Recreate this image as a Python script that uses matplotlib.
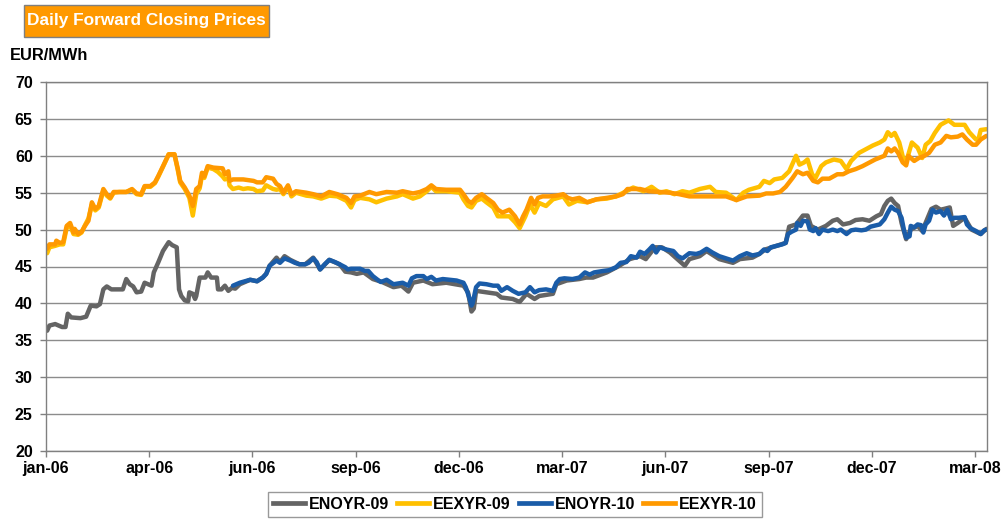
import matplotlib
matplotlib.use("Agg")
import matplotlib.pyplot as plt
from matplotlib.lines import Line2D
from matplotlib.patches import Rectangle

# day offsets since 1 Jan 2006, price in EUR/MWh
ENOYR_09 = [
    (1, 36.3), (3, 37.0), (8, 37.2), (14, 36.8), (17, 36.8), (19, 38.6), (22, 38.1), (30, 38.0),
    (35, 38.2), (39, 39.7), (44, 39.6), (47, 39.9), (50, 41.9), (53, 42.3), (57, 41.9), (67, 41.9),
    (70, 43.3), (73, 42.6), (76, 42.3), (79, 41.5), (83, 41.6), (86, 42.8), (92, 42.4), (94, 44.2),
    (98, 45.6), (102, 47.1), (107, 48.3), (110, 47.9), (114, 47.6), (115, 44.7), (116, 41.9),
    (118, 41.0), (121, 40.4), (124, 40.3), (125, 41.5), (128, 41.3), (130, 40.6), (131, 41.0),
    (134, 43.5), (139, 43.5), (141, 44.2), (144, 43.5), (149, 43.5), (150, 41.9), (153, 41.9),
    (156, 42.4), (159, 41.7), (162, 42.1), (165, 42.0), (169, 42.6), (178, 43.2), (184, 43.0),
    (189, 43.5), (192, 44.0), (195, 45.1), (201, 46.2), (204, 45.6), (208, 46.4), (213, 45.9),
    (217, 45.6), (221, 45.3), (226, 45.3), (233, 46.2), (239, 44.6), (247, 45.9), (256, 45.3),
    (261, 44.3), (266, 44.2), (271, 44.0), (277, 44.2), (285, 43.3), (293, 42.9), (303, 42.2),
    (310, 42.4), (316, 41.6), (320, 42.8), (329, 43.1), (337, 42.6), (349, 42.8), (364, 42.4),
    (368, 41.5), (371, 38.9), (373, 39.3), (375, 41.7), (384, 41.5), (393, 41.3), (397, 40.8),
    (407, 40.6), (413, 40.2), (419, 41.3), (426, 40.6), (430, 41.0), (442, 41.3), (445, 42.6),
    (454, 43.1), (465, 43.3), (471, 43.5), (477, 43.5), (489, 44.2), (500, 45.1), (509, 46.0),
    (518, 46.4), (523, 46.0), (531, 47.6), (537, 47.6), (544, 46.9), (554, 45.5), (557, 45.1),
    (561, 46.0), (570, 46.4), (576, 47.1), (587, 46.0), (599, 45.5), (605, 46.0), (616, 46.2),
    (622, 46.7), (627, 47.3), (637, 47.8), (645, 48.2), (648, 50.4), (654, 50.7), (660, 51.9),
    (664, 51.9), (667, 50.5), (673, 50.0), (680, 50.5), (686, 51.2), (690, 51.4), (695, 50.7),
    (701, 50.9), (706, 51.3), (712, 51.4), (718, 51.2), (724, 51.8), (728, 52.1), (731, 53.2),
    (734, 53.9), (737, 54.2), (740, 53.6), (743, 53.2), (746, 50.9), (750, 48.7), (754, 50.0),
    (760, 50.5), (764, 49.8), (772, 52.8), (776, 53.1), (780, 52.7), (783, 52.8), (788, 53.0),
    (791, 50.5), (795, 50.9), (801, 51.6), (807, 50.0), (815, 49.4), (820, 50.1),
]

EEXYR_09 = [
    (1, 46.8), (3, 47.6), (8, 47.8), (12, 48.0), (15, 48.0), (18, 50.2), (21, 50.6), (24, 49.4),
    (28, 49.3), (31, 49.6), (34, 50.6), (37, 51.5), (40, 53.4), (43, 52.6), (46, 53.0), (50, 55.3),
    (53, 54.6), (56, 54.2), (59, 55.0), (64, 55.1), (70, 55.1), (75, 55.4), (79, 54.8), (83, 54.7),
    (86, 55.8), (91, 55.8), (95, 56.3), (98, 57.2), (102, 58.5), (107, 60.2), (112, 60.2),
    (115, 58.0), (117, 56.4), (121, 55.5), (125, 54.3), (128, 51.9), (131, 54.8), (134, 55.6),
    (136, 57.3), (138, 57.0), (141, 58.4), (146, 58.2), (150, 57.8), (154, 57.2), (156, 56.8),
    (159, 57.0), (160, 56.0), (163, 55.5), (168, 55.7), (172, 55.5), (176, 55.6), (181, 55.5),
    (184, 55.2), (189, 55.3), (192, 56.0), (198, 55.5), (201, 55.4), (204, 55.5), (207, 54.8),
    (211, 55.8), (214, 54.5), (218, 55.0), (227, 54.6), (233, 54.5), (240, 54.2), (247, 54.6),
    (254, 54.5), (262, 53.9), (266, 53.0), (269, 54.0), (274, 54.3), (282, 54.1), (288, 53.7),
    (297, 54.2), (306, 54.5), (311, 54.8), (320, 54.2), (326, 54.5), (332, 55.2), (336, 55.8),
    (340, 55.2), (349, 55.2), (361, 55.0), (364, 54.1), (368, 53.2), (371, 53.0), (375, 53.9),
    (380, 54.2), (384, 53.7), (390, 53.0), (394, 51.8), (398, 51.8), (404, 51.8), (409, 51.0),
    (413, 50.2), (418, 51.8), (422, 53.4), (426, 52.3), (430, 53.6), (436, 53.2), (442, 54.1),
    (451, 54.5), (456, 53.4), (463, 53.9), (472, 53.7), (480, 54.1), (489, 54.2), (497, 54.5),
    (506, 55.2), (512, 55.7), (521, 55.2), (528, 55.8), (535, 55.0), (541, 55.2), (548, 54.8),
    (555, 55.2), (561, 55.0), (570, 55.5), (579, 55.8), (584, 55.1), (593, 55.0), (602, 54.0),
    (608, 55.0), (613, 55.4), (622, 55.8), (626, 56.6), (631, 56.3), (635, 56.8), (642, 57.0),
    (648, 57.9), (654, 60.0), (657, 58.8), (661, 59.1), (664, 59.5), (668, 57.5), (671, 57.0),
    (676, 58.6), (680, 59.1), (687, 59.5), (693, 59.3), (698, 58.2), (702, 59.3), (709, 60.4),
    (715, 60.9), (721, 61.4), (727, 61.8), (731, 62.2), (734, 63.2), (737, 62.7), (740, 63.1),
    (744, 61.8), (748, 59.3), (751, 59.7), (755, 61.8), (760, 61.1), (764, 59.7), (767, 61.5),
    (771, 62.0), (775, 63.1), (780, 64.2), (787, 64.8), (792, 64.2), (796, 64.2), (801, 64.2),
    (805, 63.2), (811, 62.2), (813, 62.2), (815, 63.5), (820, 63.6),
]

ENOYR_10 = [
    (163, 42.4), (169, 42.8), (178, 43.2), (184, 43.0), (189, 43.5), (192, 44.0), (195, 45.1),
    (201, 45.8), (204, 45.5), (208, 46.1), (213, 45.8), (217, 45.5), (221, 45.3), (226, 45.3),
    (229, 45.5), (233, 46.1), (236, 45.6), (239, 44.6), (243, 45.3), (247, 45.9), (252, 45.6),
    (256, 45.3), (261, 44.9), (263, 44.6), (266, 44.7), (274, 44.7), (278, 44.4), (281, 44.4),
    (285, 43.7), (290, 43.1), (292, 42.9), (297, 43.2), (303, 42.6), (307, 42.7), (311, 42.8),
    (316, 42.4), (319, 43.4), (323, 43.7), (329, 43.7), (332, 43.3), (336, 43.6), (340, 43.1),
    (346, 43.3), (352, 43.2), (358, 43.1), (364, 42.8), (366, 42.2), (369, 40.8), (371, 39.7),
    (372, 40.0), (375, 42.2), (378, 42.7), (384, 42.6), (390, 42.4), (394, 42.4), (397, 41.7),
    (402, 42.2), (407, 41.7), (412, 41.3), (418, 41.5), (422, 42.2), (426, 41.5), (430, 41.8),
    (436, 41.9), (442, 41.7), (445, 42.8), (448, 43.3), (452, 43.4), (459, 43.3), (465, 43.5),
    (470, 44.2), (474, 43.9), (478, 44.2), (486, 44.4), (491, 44.5), (497, 44.9), (501, 45.5),
    (506, 45.6), (510, 46.4), (515, 46.2), (518, 47.0), (522, 46.7), (526, 47.3), (529, 47.8),
    (532, 46.9), (535, 47.6), (541, 47.3), (547, 47.1), (551, 46.4), (555, 46.1), (561, 46.8),
    (567, 46.7), (571, 46.9), (576, 47.4), (581, 46.9), (587, 46.4), (593, 46.1), (599, 45.8),
    (605, 46.4), (611, 46.8), (616, 46.5), (622, 46.7), (626, 47.3), (629, 47.1), (632, 47.6),
    (637, 47.8), (642, 48.0), (645, 48.2), (647, 49.4), (650, 49.7), (654, 50.0), (655, 50.9),
    (658, 50.5), (660, 51.2), (664, 51.1), (666, 50.0), (669, 49.8), (671, 50.2), (674, 49.4),
    (677, 50.0), (682, 49.8), (686, 50.0), (690, 49.8), (693, 50.0), (698, 49.4), (702, 49.9),
    (706, 50.0), (711, 49.9), (715, 50.0), (719, 50.4), (727, 50.7), (731, 51.4), (734, 52.3),
    (737, 53.1), (740, 52.7), (743, 52.5), (746, 51.6), (748, 50.0), (750, 48.9), (753, 49.1),
    (754, 50.5), (757, 50.3), (760, 50.7), (763, 50.6), (765, 49.6), (767, 50.7), (770, 51.2),
    (773, 52.7), (776, 52.3), (780, 52.5), (783, 51.9), (786, 52.7), (789, 51.4), (792, 51.6),
    (796, 51.6), (801, 51.7), (803, 50.7), (806, 50.2), (811, 49.8), (815, 49.4), (818, 49.9),
    (820, 50.0),
]

EEXYR_10 = [
    (1, 47.4), (3, 48.0), (8, 48.0), (9, 48.5), (12, 48.2), (15, 48.3), (18, 50.5), (21, 50.9),
    (24, 49.6), (25, 50.1), (28, 49.4), (31, 49.7), (34, 50.5), (37, 51.2), (40, 53.7), (43, 52.8),
    (46, 53.2), (50, 55.5), (53, 54.8), (56, 54.3), (59, 55.1), (64, 55.1), (70, 55.1), (75, 55.5),
    (79, 54.9), (83, 54.8), (86, 55.9), (91, 55.9), (95, 56.4), (98, 57.3), (102, 58.6),
    (107, 60.2), (112, 60.2), (115, 58.2), (117, 56.6), (121, 55.7), (125, 54.6), (128, 53.2),
    (131, 55.5), (134, 55.9), (136, 57.7), (138, 57.2), (141, 58.6), (146, 58.4), (154, 58.3),
    (156, 57.5), (159, 57.9), (160, 56.6), (163, 56.8), (172, 56.8), (181, 56.6), (184, 56.4),
    (189, 56.4), (192, 57.1), (198, 56.9), (201, 56.2), (204, 55.9), (207, 55.0), (211, 56.0),
    (214, 54.8), (218, 55.2), (227, 55.0), (233, 54.8), (240, 54.5), (247, 55.1), (254, 54.8),
    (262, 54.3), (266, 53.6), (269, 54.5), (274, 54.6), (282, 55.1), (288, 54.8), (297, 55.1),
    (306, 55.0), (311, 55.2), (320, 54.9), (326, 55.1), (332, 55.5), (336, 56.0), (340, 55.5),
    (349, 55.4), (361, 55.4), (364, 54.8), (368, 53.9), (371, 53.6), (375, 54.3), (380, 54.8),
    (384, 54.3), (390, 53.6), (394, 52.7), (398, 52.3), (404, 52.7), (409, 51.8), (413, 50.7),
    (416, 51.8), (419, 52.7), (423, 54.3), (426, 53.4), (429, 54.3), (433, 54.5), (439, 54.5),
    (445, 54.6), (451, 54.8), (455, 54.3), (459, 54.1), (465, 54.3), (472, 53.7), (480, 54.1),
    (489, 54.3), (497, 54.5), (503, 54.8), (507, 55.5), (518, 55.5), (526, 55.2), (535, 55.1),
    (544, 55.0), (552, 54.8), (561, 54.5), (570, 54.5), (581, 54.5), (593, 54.5), (602, 54.0),
    (611, 54.5), (622, 54.6), (628, 54.9), (634, 54.9), (640, 55.1), (645, 55.8), (651, 57.0),
    (655, 57.9), (660, 57.5), (664, 57.7), (669, 56.6), (673, 56.4), (677, 56.9), (683, 56.9),
    (690, 57.5), (695, 57.5), (700, 57.9), (706, 58.2), (712, 58.6), (718, 59.1), (723, 59.5),
    (731, 60.0), (734, 61.0), (737, 60.6), (740, 61.0), (743, 60.4), (747, 59.1), (750, 58.7),
    (752, 60.0), (757, 59.3), (761, 59.7), (766, 60.0), (770, 60.4), (775, 61.5), (780, 61.8),
    (785, 62.7), (789, 62.5), (795, 62.6), (799, 62.9), (803, 62.2), (808, 61.5), (811, 61.5),
    (815, 62.2), (820, 62.7),
]

SERIES_NAMES = ["ENOYR-09", "EEXYR-09", "ENOYR-10", "EEXYR-10"]
SERIES_COLORS = ["#646464", "#FFC000", "#1A5CA8", "#FF9900"]

TICK_DAYS = [0, 90, 180, 270, 360, 450, 540, 630, 720, 810]
TICK_LABELS = ["jan-06", "apr-06", "jun-06", "sep-06", "dec-06",
               "mar-07", "jun-07", "sep-07", "dec-07", "mar-08"]
Y_TICKS = [20, 25, 30, 35, 40, 45, 50, 55, 60, 65, 70]

plt.rcParams["font.family"] = ["Liberation Sans", "DejaVu Sans"]
plt.rcParams["font.weight"] = "bold"

W, H = 1003, 520
fig = plt.figure(figsize=(W / 100, H / 100), dpi=100)
ax = fig.add_axes([46 / W, 1 - 451 / H, 941 / W, 369 / H])

for data, name, color in zip([ENOYR_09, EEXYR_09, ENOYR_10, EEXYR_10], SERIES_NAMES, SERIES_COLORS):
    days = [d for d, _ in data]
    vals = [v for _, v in data]
    ax.plot(days, vals, color=color, lw=3.2, solid_joinstyle="round", solid_capstyle="round")

ax.set_xlim(0, 820.5)
ax.set_ylim(20, 70)
ax.set_yticks(Y_TICKS)
ax.set_xticks(TICK_DAYS)
ax.set_xticklabels(TICK_LABELS)
ax.grid(axis="y", color="#8c8c8c", lw=1.0)
ax.set_axisbelow(True)
for sp in ax.spines.values():
    sp.set_color("#808080")
    sp.set_linewidth(1.0)
ax.tick_params(axis="both", direction="out", color="#808080", width=1.0, labelsize=11.5)
ax.tick_params(axis="y", length=4.5, pad=5)
ax.tick_params(axis="x", length=4, pad=3)

# title box
fig.patches.append(Rectangle((24 / W, 1 - 37 / H), 245 / W, 32 / H, transform=fig.transFigure,
                             facecolor="#FF9900", edgecolor="#7f7f7f", lw=1.0))
fig.text(146.5 / W, 1 - 21 / H, "Daily Forward Closing Prices", color="white",
         fontsize=12.4, fontweight="bold", ha="center", va="center")
fig.text(10 / W, 1 - 55 / H, "EUR/MWh", fontsize=11.8, fontweight="bold", ha="left", va="center")

handles = [Line2D([], [], color=c, lw=3.4) for c in SERIES_COLORS]
leg = fig.legend(handles, SERIES_NAMES, loc="center", bbox_to_anchor=(515 / W, 1 - 504.5 / H),
                 ncol=4, fontsize=11.5, frameon=True, fancybox=False, handlelength=2.0,
                 handletextpad=0.25, columnspacing=0.5, borderpad=0.3, borderaxespad=0)
leg.get_frame().set_edgecolor("#808080")
leg.get_frame().set_linewidth(1.0)

fig.savefig("out.png", dpi=100)
